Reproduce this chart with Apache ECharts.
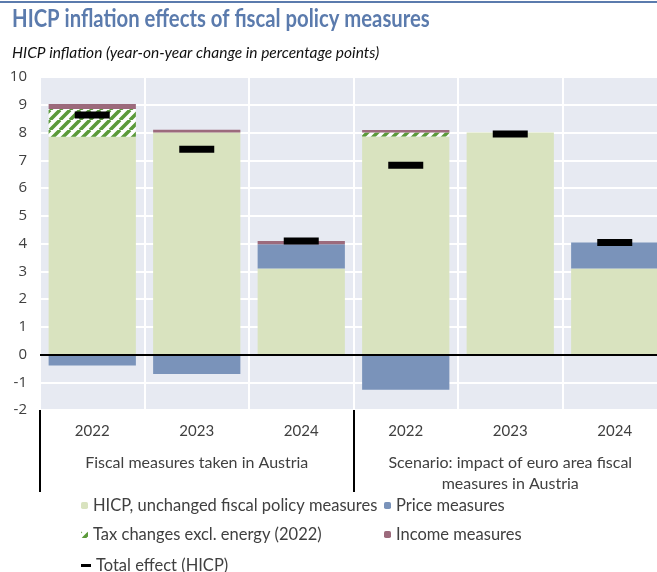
<!DOCTYPE html>
<html>
<head>
<meta charset="utf-8">
<script src="https://cdn.jsdelivr.net/npm/echarts@6/dist/echarts.min.js"></script>
<style>
  html, body { margin: 0; padding: 0; background: #fff; }
  #chart { width: 657px; height: 572px; }
</style>
</head>
<body>
<div id="chart"></div>
<script>
// Years shown under each bar, and the two scenario groups they belong to
const categories = ['2022', '2023', '2024', '2022', '2023', '2024'];
const groups = ['Fiscal measures taken in Austria', 'Scenario: impact of euro area fiscal\nmeasures in Austria'];

// Contributions in percentage points
const hicpBase = [7.85, 8.0, 3.1, 7.86, 8.0, 3.1];
const taxChanges = [1.0, 0, 0, 0.14, 0, 0];
const priceMeasures = [-0.4, -0.7, 0.87, -1.27, -0.05, 0.94];
const incomeMeasures = [0.18, 0.1, 0.12, 0.09, 0, 0];
const totalEffect = [8.63, 7.4, 4.09, 6.82, 7.95, 4.04];

const yTicks = { min: -2, max: 10, step: 1 };

const names = {
  base: 'HICP, unchanged fiscal policy measures',
  price: 'Price measures',
  tax: 'Tax changes excl. energy (2022)',
  income: 'Income measures',
  total: 'Total effect (HICP)'
};

const textColor = '#404040';
const font = 'Lato, "Open Sans", sans-serif';

// Diagonal green hatch used for tax changes
function hatchPattern() {
  const size = 10;
  const c = document.createElement('canvas');
  c.width = size; c.height = size;
  const g = c.getContext('2d');
  g.fillStyle = '#ffffff';
  g.fillRect(0, 0, size, size);
  g.strokeStyle = '#5b9a3a';
  g.lineWidth = 3.6;
  g.beginPath();
  for (let k = -1; k <= 1; k++) {
    g.moveTo(k * size, size);
    g.lineTo(k * size + size, 0);
  }
  g.stroke();
  return { image: c, repeat: 'repeat' };
}

const chart = echarts.init(document.getElementById('chart'), null, { renderer: 'canvas' });

const legendText = { color: textColor, fontSize: 16.5, fontFamily: font };

chart.setOption({
  animation: false,
  backgroundColor: '#ffffff',
  graphic: [{
    type: 'rect', left: 0, top: 1,
    shape: { width: 657, height: 2 },
    style: { fill: '#5b7bad' }, silent: true
  }, {
    // Chart heading, set slightly condensed
    type: 'text', x: 12, y: 7, scaleX: 0.845,
    style: {
      text: 'HICP inflation effects of fiscal policy measures',
      fill: '#5b7bad', font: 'bold 24px Lato, "Open Sans", sans-serif'
    },
    silent: true
  }],
  title: [{
    text: 'HICP inflation (year-on-year change in percentage points)',
    left: 12, top: 45, padding: 0,
    textStyle: { color: '#111', fontSize: 15.5, fontStyle: 'italic', fontWeight: 'normal', fontFamily: font }
  }],
  legend: [{
    left: 81, top: 497, orient: 'vertical', itemGap: 12, padding: 0,
    itemWidth: 7, itemHeight: 7,
    data: [names.base, names.tax],
    textStyle: legendText, selectedMode: false
  }, {
    left: 384, top: 497, orient: 'vertical', itemGap: 12, padding: 0,
    itemWidth: 7, itemHeight: 7,
    data: [names.price, names.income],
    textStyle: legendText, selectedMode: false
  }, {
    left: 81, top: 557, orient: 'vertical', padding: 0,
    itemWidth: 10, itemHeight: 3,
    data: [{ name: names.total, icon: 'rect' }],
    textStyle: legendText, selectedMode: false
  }],
  grid: {
    left: 40, width: 627, top: 77, height: 333,
    outerBoundsMode: 'none', containLabel: false,
    show: true, backgroundColor: '#e7eaf2', borderWidth: 0
  },
  xAxis: [{
    type: 'category', data: categories, position: 'bottom', offset: 0,
    axisLine: { show: false }, axisTick: { show: false },
    axisLabel: { color: textColor, fontSize: 15, fontFamily: font, margin: 14, interval: 0 },
    splitLine: { show: true, interval: 0, lineStyle: { color: '#ffffff', width: 2 } }
  }, {
    type: 'category', data: groups, position: 'bottom', offset: 0,
    axisLine: { show: false },
    axisTick: { show: true, interval: 0, length: 82, lineStyle: { color: '#000', width: 2 } },
    axisLabel: { color: textColor, fontSize: 16, fontFamily: font, margin: 42, lineHeight: 21, interval: 0, hideOverlap: false },
    splitLine: { show: false }
  }],
  yAxis: {
    type: 'value', min: yTicks.min, max: yTicks.max, interval: yTicks.step,
    axisLine: { show: false }, axisTick: { show: false },
    axisLabel: { color: textColor, fontSize: 15, fontFamily: '"Open Sans", sans-serif', margin: 13 },
    splitLine: { show: true, lineStyle: { color: '#ffffff', width: 2 } }
  },
  series: [{
    name: names.base, type: 'bar', stack: 'fx', data: hicpBase,
    barCategoryGap: '16.5%',
    itemStyle: { color: '#d9e3bf' },
    markLine: {
      silent: true, symbol: 'none', label: { show: false },
      lineStyle: { color: '#000', type: 'solid', width: 2 },
      data: [{ yAxis: 0 }]
    }
  }, {
    name: names.tax, type: 'bar', stack: 'fx', data: taxChanges,
    itemStyle: { color: hatchPattern() }
  }, {
    name: names.price, type: 'bar', stack: 'fx', data: priceMeasures,
    itemStyle: { color: '#7a93ba' }
  }, {
    name: names.income, type: 'bar', stack: 'fx', data: incomeMeasures,
    itemStyle: { color: '#9c6a7c' }
  }, {
    name: names.total, type: 'scatter', data: totalEffect,
    symbol: 'rect', symbolSize: [35, 7], z: 10,
    itemStyle: { color: '#000000', opacity: 1 }
  }]
});
</script>
</body>
</html>
